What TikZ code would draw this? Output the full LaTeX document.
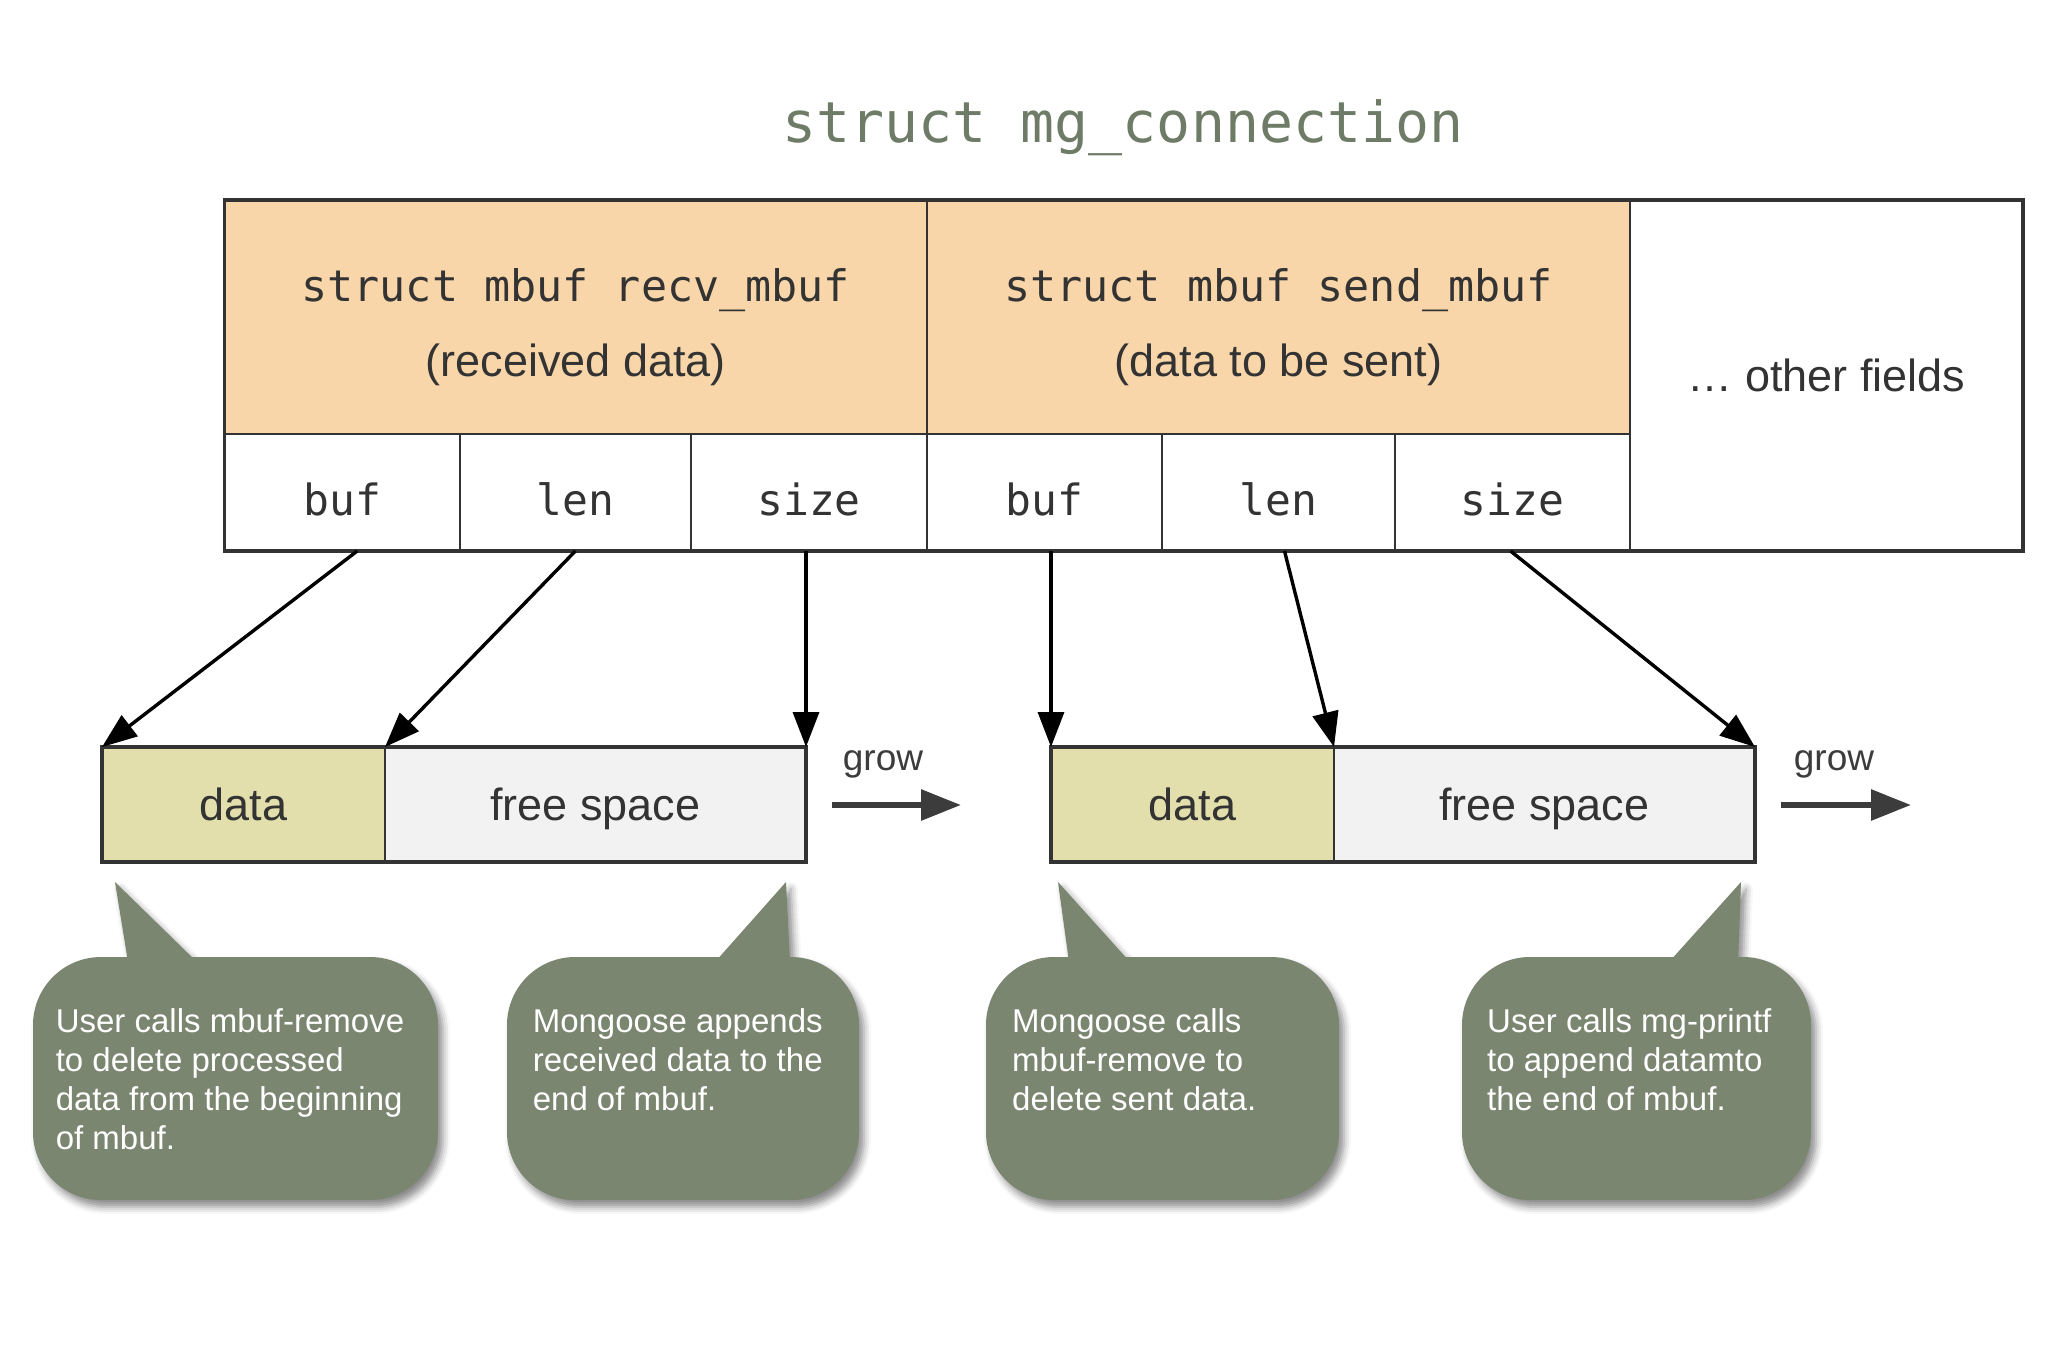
\documentclass[tikz,border=0pt]{standalone}
\usepackage{fontspec}
\setmainfont{Liberation Sans}
\newfontfamily\codefont{DejaVu Sans Mono}
\usetikzlibrary{arrows.meta,shadows.blur}
\definecolor{orangecell}{HTML}{F9D6A9}
\definecolor{datafill}{HTML}{E2DFAD}
\definecolor{freefill}{HTML}{F2F2F2}
\definecolor{calloutfill}{HTML}{7A8670}
\definecolor{titlecol}{HTML}{6E7B66}
\definecolor{linecol}{HTML}{333333}
\definecolor{txtcol}{HTML}{333333}
\definecolor{growcol}{HTML}{3C3C3C}
\begin{document}
\begin{tikzpicture}[x=1pt,y=-1pt,
  cell/.style={draw=linecol, line width=2.4pt, inner sep=0pt, outer sep=0pt, text=txtcol},
  headcell/.style={cell, fill=orangecell},
  codecell/.style={cell, fill=white, font=\codefont\fontsize{43}{50}\selectfont, text height=45pt, text depth=0pt},
  codelbl/.style={inner sep=0pt, text=txtcol, font=\codefont\fontsize{43.4}{50}\selectfont},
  desclbl/.style={inner sep=0pt, text=txtcol, font=\fontsize{45}{52}\selectfont},
  bufcell/.style={cell, font=\fontsize{45}{52}\selectfont, text height=31pt, text depth=0pt, minimum height=115pt},
  frame/.style={draw=linecol, line width=3.6pt},
  ptr/.style={line width=3.4pt, black, -{Triangle[length=35pt,width=26pt]}},
  growarr/.style={line width=6pt, growcol, -{Triangle[length=40pt,width=30pt]}},
  growlbl/.style={inner sep=0pt, text=growcol, font=\fontsize{37}{44}\selectfont},
  shad/.style={blur shadow={shadow xshift=5pt, shadow yshift=-7pt, shadow blur radius=7pt, shadow opacity=45}},
  callout/.style={fill=calloutfill, rounded corners=68pt, inner sep=0pt, shad},
  pointer/.style={fill=calloutfill, shad},
  callouttext/.style={inner sep=0pt, anchor=north west, align=left, text=white, font=\fontsize{33}{39}\selectfont}
]
\useasboundingbox (0,0) rectangle (2048,1365);

% title
\node[anchor=base, inner sep=0pt, text=titlecol, font=\codefont\fontsize{56.5}{62}\selectfont] (title) at (1123,142) {struct mg\_connection};

% top structure
\node[headcell, minimum width=702.4pt, minimum height=234pt] (recv) at (575.8,317) {};
\node[headcell, minimum width=703pt, minimum height=234pt] (send) at (1278.5,317) {};
\node[cell, fill=white, minimum width=393pt, minimum height=351pt, font=\fontsize{45}{52}\selectfont, text height=32pt, text depth=0pt] (other) at (1826.5,375.5) {… other fields};

\node[codecell, minimum width=235.1pt, minimum height=117pt] (rbuf) at (342.2,492.5) {buf};
\node[codecell, minimum width=231.3pt, minimum height=117pt] (rlen) at (575.4,492.5) {len};
\node[codecell, minimum width=236pt, minimum height=117pt] (rsize) at (809,492.5) {size};
\node[codecell, minimum width=235pt, minimum height=117pt] (sbuf) at (1044.5,492.5) {buf};
\node[codecell, minimum width=233pt, minimum height=117pt] (slen) at (1278.5,492.5) {len};
\node[codecell, minimum width=235pt, minimum height=117pt] (ssize) at (1512.5,492.5) {size};

\draw[frame] (recv.north west) rectangle (other.south east);

\node[codelbl, anchor=base] (recvcode) at (575.8,301.7) {struct mbuf recv\_mbuf};
\node[desclbl, anchor=base] (recvdesc) at (575.8,376.7) {(received data)};
\node[codelbl, anchor=base] (sendcode) at (1278.5,301.7) {struct mbuf send\_mbuf};
\node[desclbl, anchor=base] (senddesc) at (1278.5,376.7) {(data to be sent)};

% buffers
\node[bufcell, fill=datafill, minimum width=283pt] (ldata) at (243.5,804.5) {data};
\node[bufcell, fill=freefill, minimum width=421pt] (lfree) at (595.5,804.5) {free space};
\node[bufcell, fill=datafill, minimum width=283pt] (rdata) at (1192.5,804.5) {data};
\node[bufcell, fill=freefill, minimum width=421pt] (rfree) at (1544.5,804.5) {free space};
\draw[frame] (ldata.north west) rectangle (lfree.south east);
\draw[frame] (rdata.north west) rectangle (rfree.south east);

% pointer arrows
\draw[ptr] ([xshift=15pt]rbuf.south) -- (ldata.north west);
\draw[ptr] (rlen.south) -- (lfree.north west);
\draw[ptr] (rsize.south -| lfree.north east) -- (lfree.north east);
\draw[ptr] (sbuf.south -| rdata.north west) -- (rdata.north west);
\draw[ptr] ([xshift=6pt]slen.south) -- (rfree.north west);
\draw[ptr] ([xshift=-2pt]ssize.south) -- (rfree.north east);

% grow arrows
\coordinate (lg1) at (832,805);
\coordinate (lg2) at (961,805);
\coordinate (rg1) at (1781,805);
\coordinate (rg2) at (1911,805);
\draw[growarr] (lg1) -- (lg2);
\draw[growarr] (rg1) -- (rg2);
\node[growlbl, anchor=base] (lgrow) at (883,770) {grow};
\node[growlbl, anchor=base] (rgrow) at (1834,770) {grow};

% callouts
\fill[pointer] (128,962) -- (115,882) -- (197,962) -- cycle;
\node[callout, minimum width=405pt, minimum height=243pt] (c1) at (235.5,1078.5) {};
\fill[pointer] (715,962) -- (786,882) -- (790,962) -- cycle;
\node[callout, minimum width=352pt, minimum height=243pt] (c2) at (683,1078.5) {};
\fill[pointer] (1069,962) -- (1058,882) -- (1130,962) -- cycle;
\node[callout, minimum width=353pt, minimum height=243pt] (c3) at (1162.5,1078.5) {};
\fill[pointer] (1669,962) -- (1741,882) -- (1738,962) -- cycle;
\node[callout, minimum width=349pt, minimum height=243pt] (c4) at (1636.5,1078.5) {};

\node[callouttext] (t1) at (55.6,1008) {User calls mbuf-remove\\to delete processed\\data from the beginning\\of mbuf.};
\node[callouttext] (t2) at (532.6,1008) {Mongoose appends\\received data to the\\end of mbuf.};
\node[callouttext] (t3) at (1012,1008) {Mongoose calls\\mbuf-remove to\\delete sent data.};
\node[callouttext] (t4) at (1487,1008) {User calls mg-printf\\to append datamto\\the end of mbuf.};
\end{tikzpicture}
\end{document}
